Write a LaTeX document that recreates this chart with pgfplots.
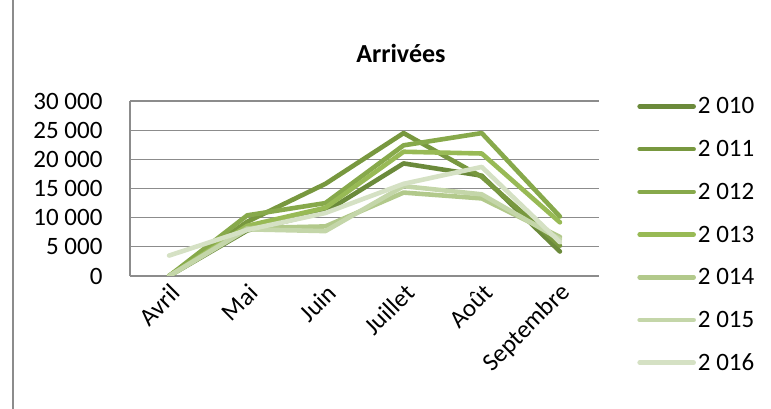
\documentclass[border=0pt]{standalone}
\usepackage{pgfplots}
\pgfplotsset{compat=1.18}
\usepackage{fontspec}
\setmainfont{Carlito}
\definecolor{c10}{HTML}{6B8A3B}
\definecolor{c11}{HTML}{78983F}
\definecolor{c12}{HTML}{87A94B}
\definecolor{c13}{HTML}{98BA55}
\definecolor{c14}{HTML}{B2C98B}
\definecolor{c15}{HTML}{C4D6A9}
\definecolor{c16}{HTML}{D5E1C4}
\definecolor{gridgray}{HTML}{8C8C8C}
\begin{document}
\begin{tikzpicture}
\path[use as bounding box] (0,0) rectangle (771bp,409bp);
\draw[gridgray, line width=1.2bp] (13bp,0) -- (13bp,409bp);
\node[font=\fontsize{26bp}{30bp}\selectfont\bfseries] at (401bp,356bp) {Arrivées};
\begin{axis}[
  at={(130bp,133bp)}, anchor=south west,
  width=469bp, height=175bp, scale only axis,
  xmin=-0.5, xmax=5.5, ymin=0, ymax=30000,
  xtick={0,1,2,3,4,5},
  xticklabels={Avril,Mai,Juin,Juillet,Août,Septembre},
  ytick={0,5000,10000,15000,20000,25000,30000},
  scaled ticks=false,
  /pgf/number format/assume math mode=true,
  /pgf/number format/1000 sep={\ },
  yticklabel style={font=\fontsize{25bp}{28bp}\selectfont, anchor=east, xshift=-24bp},
  xticklabel style={font=\fontsize{25bp}{28bp}\selectfont, rotate=45, anchor=east, xshift=-1bp, yshift=-13.5bp},
  axis x line*=bottom, axis y line*=left,
  x axis line style={draw=none},
  y axis line style={gridgray, line width=1.2bp},
  major tick length=0pt,
  ymajorgrids, grid style={gridgray, line width=1.2bp},
  every axis plot/.append style={line width=4.6bp, line join=round, line cap=round, mark=none},
  legend cell align=left,
  legend style={at={(1.075,1.03)}, anchor=north west, draw=none, fill=none,
    font=\fontsize{25bp}{28bp}\selectfont,
    nodes={inner sep=1bp, text height=15bp, text depth=0bp},
    row sep=25.7bp, column sep=1bp},
  legend image code/.code={\draw[#1, line width=4.6bp, line cap=round] (0bp,0bp) -- (54bp,0bp);},
]
\addplot[c10] coordinates {(0,0) (1,7800) (2,11000) (3,19300) (4,17200) (5,4200)};
\addplot[c11] coordinates {(0,0) (1,9300) (2,15800) (3,24500) (4,17000) (5,5200)};
\addplot[c12] coordinates {(0,0) (1,10400) (2,12500) (3,22400) (4,24500) (5,10200)};
\addplot[c13] coordinates {(0,0) (1,8600) (2,11700) (3,21300) (4,21000) (5,9200)};
\addplot[c14] coordinates {(0,0) (1,8200) (2,8500) (3,14300) (4,13300) (5,6700)};
\addplot[c15] coordinates {(0,0) (1,8000) (2,7700) (3,15400) (4,14000) (5,6300)};
\addplot[c16] coordinates {(0,3500) (1,7900) (2,10800) (3,15800) (4,18700) (5,5800)};
\legend{2 010,2 011,2 012,2 013,2 014,2 015,2 016}
\end{axis}
\end{tikzpicture}
\end{document}
